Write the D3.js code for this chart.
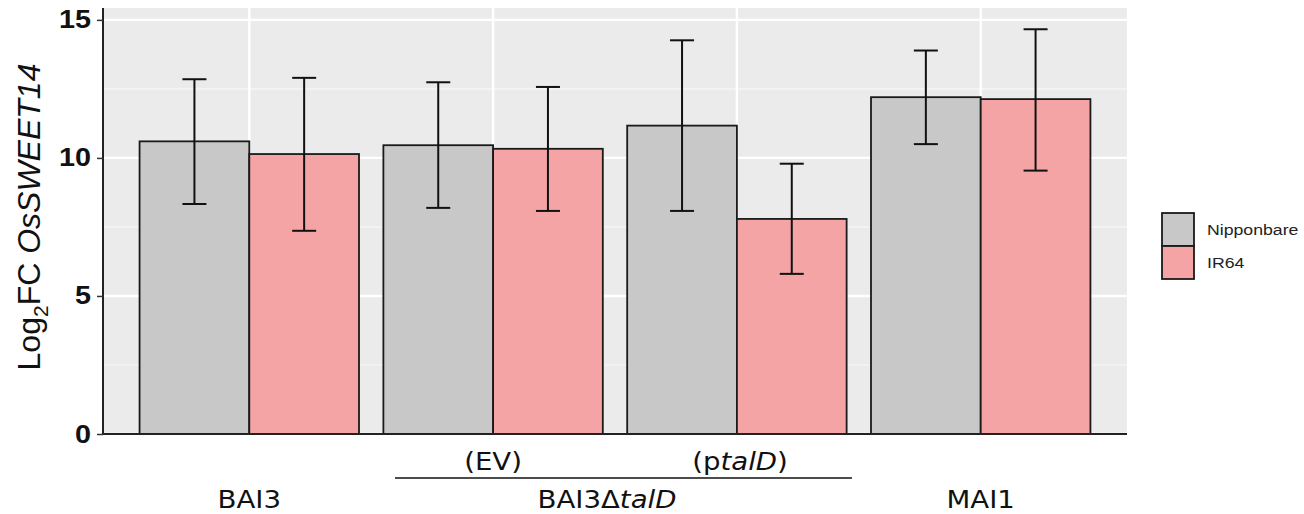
<!DOCTYPE html>
<html><head><meta charset="utf-8">
<script src="https://cdn.jsdelivr.net/npm/d3@7"></script>
<style>body{margin:0;background:#fff}</style>
</head><body>
<svg id="c" width="1304" height="514"></svg>
<script>
const categories = ["BAI3", "EV", "ptalD", "MAI1"];
const series = ["Nipponbare", "IR64"];
const meanNip = [10.6, 10.46, 11.17, 12.2];
const meanIR = [10.14, 10.33, 7.79, 12.13];
const hiNip = [12.85, 12.74, 14.26, 13.89];
const loNip = [8.33, 8.19, 8.08, 10.5];
const hiIR = [12.9, 12.57, 9.79, 14.66];
const loIR = [7.36, 8.08, 5.8, 9.54];
const yTicks = [0, 5, 10, 15];
const colors = ["#c8c8c8", "#f5a4a6"];

const svg = d3.select("#c");
const L = 103, R = 1127, T = 8, B = 434;
const SX = 1.15; // horizontal stretch of text
// ggplot discrete: range [0.4, 4.6]
const xc = d3.scaleLinear().domain([0.4, 4.6]).range([L, R]);
const y = d3.scaleLinear().domain([0, 15.43]).range([B, T]);

svg.append("rect").attr("x", L).attr("y", T).attr("width", R - L).attr("height", B - T).attr("fill", "#ebebeb");
[2.5, 7.5, 12.5].forEach(v => svg.append("line").attr("x1", L).attr("x2", R).attr("y1", y(v)).attr("y2", y(v)).attr("stroke", "#f7f7f7").attr("stroke-width", 1.2));
yTicks.forEach(v => svg.append("line").attr("x1", L).attr("x2", R).attr("y1", y(v)).attr("y2", y(v)).attr("stroke", "#fff").attr("stroke-width", 2.4));
categories.forEach((c, i) => svg.append("line").attr("x1", xc(i + 1)).attr("x2", xc(i + 1)).attr("y1", T).attr("y2", B).attr("stroke", "#fff").attr("stroke-width", 2.4));

const half = xc(1.45) - xc(1);
const data = [];
categories.forEach((c, i) => {
  data.push({i, s: 0, m: meanNip[i], hi: hiNip[i], lo: loNip[i]});
  data.push({i, s: 1, m: meanIR[i], hi: hiIR[i], lo: loIR[i]});
});
const bx = d => xc(d.i + 1) + (d.s === 0 ? -half : 0);
svg.selectAll("rect.bar").data(data).enter().append("rect")
  .attr("x", bx).attr("y", d => y(d.m)).attr("width", half).attr("height", d => B - y(d.m))
  .attr("fill", d => colors[d.s]).attr("stroke", "#1a1a1a").attr("stroke-width", 1.8);
const cx = d => bx(d) + half / 2;
const cap = 12;
const eg = svg.selectAll("g.err").data(data).enter().append("g").attr("stroke", "#111").attr("stroke-width", 2);
eg.append("line").attr("x1", cx).attr("x2", cx).attr("y1", d => y(d.hi)).attr("y2", d => y(d.lo));
eg.append("line").attr("x1", d => cx(d) - cap).attr("x2", d => cx(d) + cap).attr("y1", d => y(d.hi)).attr("y2", d => y(d.hi));
eg.append("line").attr("x1", d => cx(d) - cap).attr("x2", d => cx(d) + cap).attr("y1", d => y(d.lo)).attr("y2", d => y(d.lo));

// axes
const ya = svg.append("g").attr("transform", `translate(${L},0)`)
  .call(d3.axisLeft(y).tickValues(yTicks).tickSize(6).tickPadding(0));
ya.select(".domain").attr("d", `M0,${T}V${B}`).attr("stroke", "#222").attr("stroke-width", 2);
ya.selectAll(".tick line").attr("stroke", "#333").attr("stroke-width", 1.5);
ya.selectAll("text").attr("x", null)
  .attr("transform", `translate(-12,0) scale(${SX},1)`)
  .attr("font-family", "Liberation Sans, Arial, sans-serif").attr("font-weight", "bold").attr("font-size", 25).attr("fill", "#111");
svg.append("line").attr("x1", L).attr("x2", R).attr("y1", B).attr("y2", B).attr("stroke", "#222").attr("stroke-width", 2);

// y title
const yt = svg.append("text").attr("transform", `translate(40,${217}) rotate(-90)`).attr("text-anchor", "middle")
  .attr("font-family", "Liberation Sans, Arial, sans-serif").attr("font-size", 32).attr("fill", "#111");
yt.append("tspan").text("Log");
yt.append("tspan").text("2").attr("font-size", 21).attr("dy", 8);
yt.append("tspan").text("FC ").attr("dy", -8);
yt.append("tspan").text("OsSWEET14").attr("font-style", "italic");

// x annotations
const ff = "DejaVu Sans, Verdana, sans-serif";
function lab(xp, yp) {
  return svg.append("text").attr("transform", `translate(${xp},${yp}) scale(${SX},1)`).attr("text-anchor", "middle")
    .attr("font-family", ff).attr("font-size", 24).attr("fill", "#111");
}
lab(xc(1), 508).text("BAI3");
lab(xc(4), 508).text("MAI1");
lab(xc(2), 470).text("(EV)");
const pt = lab(740, 470);
pt.append("tspan").text("(p");
pt.append("tspan").text("talD").attr("font-style", "italic");
pt.append("tspan").text(")");
svg.append("line").attr("x1", 395).attr("x2", 852).attr("y1", 478).attr("y2", 478).attr("stroke", "#111").attr("stroke-width", 1.5);
const bt = lab(607, 508);
bt.append("tspan").text("BAI3Δ");
bt.append("tspan").text("talD").attr("font-style", "italic");

// legend
const lg = svg.append("g");
series.forEach((s, i) => {
  lg.append("rect").attr("x", 1162).attr("y", 213 + i * 33).attr("width", 32).attr("height", 33)
    .attr("fill", colors[i]).attr("stroke", "#1a1a1a").attr("stroke-width", 1.8);
  lg.append("text").attr("transform", `translate(1207,${213 + i * 33 + 22}) scale(1.18,1)`).attr("font-family", "Liberation Sans, Arial, sans-serif")
    .attr("font-size", 15).attr("fill", "#222").text(s);
});
</script>
</body></html>
